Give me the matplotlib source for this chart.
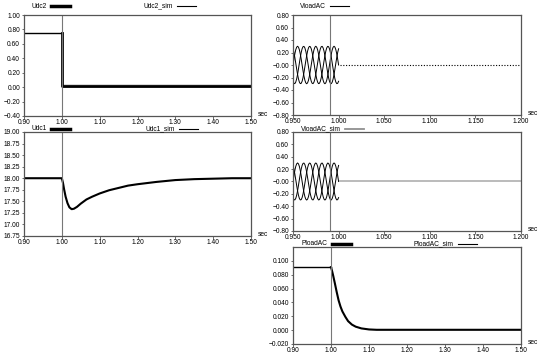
import matplotlib
matplotlib.use("Agg")
import matplotlib.pyplot as plt
import numpy as np
from matplotlib.lines import Line2D

# ---- data ----
# Udc2
t_udc2 = [0.90, 1.00, 1.00, 1.50]
udc2 = [0.75, 0.75, 0.02, 0.02]
udc2_band_t = [1.00, 1.50]
udc2_band_lo = [-0.01, -0.01]
udc2_band_hi = [0.045, 0.045]

# Udc1
t_udc1 = [0.90, 1.000, 1.003, 1.006, 1.010, 1.015, 1.020, 1.026, 1.032, 1.040,
          1.050, 1.065, 1.080, 1.100, 1.125, 1.150, 1.175, 1.200, 1.250, 1.300,
          1.350, 1.400, 1.450, 1.500]
udc1 = [18.00, 18.00, 17.90, 17.76, 17.60, 17.46, 17.37, 17.33, 17.34, 17.38,
        17.45, 17.54, 17.60, 17.67, 17.74, 17.79, 17.84, 17.87, 17.92, 17.96,
        17.98, 17.99, 18.00, 18.00]

# PloadAC
t_pload = [0.90, 1.000, 1.003, 1.006, 1.010, 1.015, 1.020, 1.025, 1.030, 1.038,
           1.045, 1.055, 1.065, 1.080, 1.100, 1.120, 1.500]
pload = [0.091, 0.091, 0.085, 0.078, 0.068, 0.055, 0.043, 0.034, 0.027, 0.019,
         0.013, 0.008, 0.005, 0.0025, 0.001, 0.0005, 0.0005]

# VloadAC, three phases sampled every 1 ms from 0.950 s to 1.000 s
va = [0.000, 0.093, 0.176, 0.243, 0.285, 0.300, 0.285, 0.243, 0.176, 0.093,
      0.000, -0.093, -0.176, -0.243, -0.285, -0.300, -0.285, -0.243, -0.176, -0.093,
      0.000, 0.093, 0.176, 0.243, 0.285, 0.300, 0.285, 0.243, 0.176, 0.093,
      0.000, -0.093, -0.176, -0.243, -0.285, -0.300, -0.285, -0.243, -0.176, -0.093,
      0.000, 0.093, 0.176, 0.243, 0.285, 0.300, 0.285, 0.243, 0.176, 0.093, 0.000]
vb = [-0.260, -0.293, -0.298, -0.274, -0.223, -0.150, -0.062, 0.031, 0.122, 0.201,
      0.260, 0.293, 0.298, 0.274, 0.223, 0.150, 0.062, -0.031, -0.122, -0.201,
      -0.260, -0.293, -0.298, -0.274, -0.223, -0.150, -0.062, 0.031, 0.122, 0.201,
      0.260, 0.293, 0.298, 0.274, 0.223, 0.150, 0.062, -0.031, -0.122, -0.201,
      -0.260, -0.293, -0.298, -0.274, -0.223, -0.150, -0.062, 0.031, 0.122, 0.201, 0.260]
vc = [0.260, 0.201, 0.122, 0.031, -0.062, -0.150, -0.223, -0.274, -0.298, -0.293,
      -0.260, -0.201, -0.122, -0.031, 0.062, 0.150, 0.223, 0.274, 0.298, 0.293,
      0.260, 0.201, 0.122, 0.031, -0.062, -0.150, -0.223, -0.274, -0.298, -0.293,
      -0.260, -0.201, -0.122, -0.031, 0.062, 0.150, 0.223, 0.274, 0.298, 0.293,
      0.260, 0.201, 0.122, 0.031, -0.062, -0.150, -0.223, -0.274, -0.298, -0.293, -0.260]
t_wave = 0.950 + 0.001 * np.arange(len(va))
t_after = [1.002, 1.200]
v_after = [0.0, 0.0]

W, H = 550, 358
plt.rcParams['font.family'] = ['Liberation Sans', 'DejaVu Sans']
fig = plt.figure(figsize=(W / 100, H / 100), dpi=100)
FS = 4.8
FRAME = '#555555'
CURSOR = '#777777'
renderer = fig.canvas.get_renderer()


def make_ax(left, top, right, bottom):
    ax = fig.add_axes([left / W, 1 - bottom / H, (right - left) / W, (bottom - top) / H])
    for s in ax.spines.values():
        s.set_color(FRAME)
        s.set_linewidth(0.9)
    ax.tick_params(axis='both', labelsize=FS, length=1.8, width=0.6, color=FRAME, pad=1.0)
    ax.tick_params(axis='x', pad=0.3)
    ax.annotate('sec', xy=(1.0, 0.0), xycoords='axes fraction', xytext=(5, 1),
                textcoords='offset points', fontsize=FS, va='center', ha='left')
    return ax


def legend(x, y, text, lw, color='black'):
    t = fig.text(x / W, 1 - y / H, text, fontsize=FS, va='center', ha='left')
    bb = t.get_window_extent(renderer)
    x0 = bb.x1 + 4
    fig.add_artist(Line2D([x0 / W, (x0 + 19) / W], [1 - y / H, 1 - y / H], lw=lw, color=color))


# ---- top left: Udc2 ----
ax1 = make_ax(24, 15, 251, 116)
ax1.fill_between(udc2_band_t, udc2_band_lo, udc2_band_hi, color='#d8d8d8', lw=0)
ax1.plot(t_udc2[:2], udc2[:2], color='black', lw=1.0)
ax1.plot(t_udc2[1:], udc2[1:], color='black', lw=2.0)
ax1.axvline(1.00, color=CURSOR, lw=0.8)
ax1.set_xlim(0.90, 1.50)
ax1.set_ylim(-0.40, 1.00)
ax1.set_xticks(np.arange(0.90, 1.501, 0.10))
ax1.set_yticks(np.arange(-0.40, 1.001, 0.20))
ax1.xaxis.set_major_formatter('{x:.2f}')
ax1.yaxis.set_major_formatter('{x:.2f}')
legend(32, 6, 'Udc2', 2.5)
legend(144, 6, 'Udc2_sim', 0.8)

# ---- top right: VloadAC ----
ax2 = make_ax(293, 15, 521, 115)
for ph in (va, vb, vc):
    ax2.plot(t_wave, ph, color='black', lw=0.7)
ax2.plot(t_after, v_after, color='black', lw=0.8, ls=(0, (1, 1.5)))
ax2.axvline(0.991, color=CURSOR, lw=0.8)
ax2.set_xlim(0.950, 1.200)
ax2.set_ylim(-0.80, 0.80)
ax2.set_xticks(np.arange(0.950, 1.2001, 0.050))
ax2.set_yticks(np.arange(-0.80, 0.801, 0.20))
ax2.xaxis.set_major_formatter('{x:.3f}')
ax2.yaxis.set_major_formatter('{x:.2f}')
legend(300, 6, 'VloadAC', 0.8)

# ---- middle left: Udc1 ----
ax3 = make_ax(24, 132, 251, 236)
ax3.plot(t_udc1, udc1, color='black', lw=1.5)
ax3.axvline(1.00, color=CURSOR, lw=0.8)
ax3.set_xlim(0.90, 1.50)
ax3.set_ylim(16.75, 19.00)
ax3.set_xticks(np.arange(0.90, 1.501, 0.10))
ax3.set_yticks(np.arange(16.75, 19.001, 0.25))
ax3.xaxis.set_major_formatter('{x:.2f}')
ax3.yaxis.set_major_formatter('{x:.2f}')
legend(32, 128.5, 'Udc1', 2.5)
legend(146, 128.5, 'Udc1_sim', 0.8)

# ---- middle right: VloadAC_sim ----
ax4 = make_ax(293, 132, 521, 231)
for ph in (va, vb, vc):
    ax4.plot(t_wave, ph, color='black', lw=0.7)
ax4.plot(t_after, v_after, color='#b5b5b5', lw=1.3)
ax4.axvline(0.991, color=CURSOR, lw=0.8)
ax4.set_xlim(0.950, 1.200)
ax4.set_ylim(-0.80, 0.80)
ax4.set_xticks(np.arange(0.950, 1.2001, 0.050))
ax4.set_yticks(np.arange(-0.80, 0.801, 0.20))
ax4.xaxis.set_major_formatter('{x:.3f}')
ax4.yaxis.set_major_formatter('{x:.2f}')
legend(301, 128.5, 'VloadAC_sim', 1.3, '#909090')

# ---- bottom right: PloadAC ----
ax5 = make_ax(293, 247, 521, 344)
ax5.plot(t_pload[:2], pload[:2], color='black', lw=1.0)
ax5.plot(t_pload[1:], pload[1:], color='black', lw=1.5)
ax5.axvline(1.00, color=CURSOR, lw=0.8)
ax5.set_xlim(0.90, 1.50)
ax5.set_ylim(-0.020, 0.120)
ax5.set_xticks(np.arange(0.90, 1.501, 0.10))
ax5.set_yticks(np.arange(-0.020, 0.1001, 0.020))
ax5.xaxis.set_major_formatter('{x:.2f}')
ax5.yaxis.set_major_formatter('{x:.3f}')
legend(302, 243.5, 'PloadAC', 2.5)
legend(414, 243.5, 'PloadAC_sim', 0.8)

fig.savefig('out.png', dpi=100)
